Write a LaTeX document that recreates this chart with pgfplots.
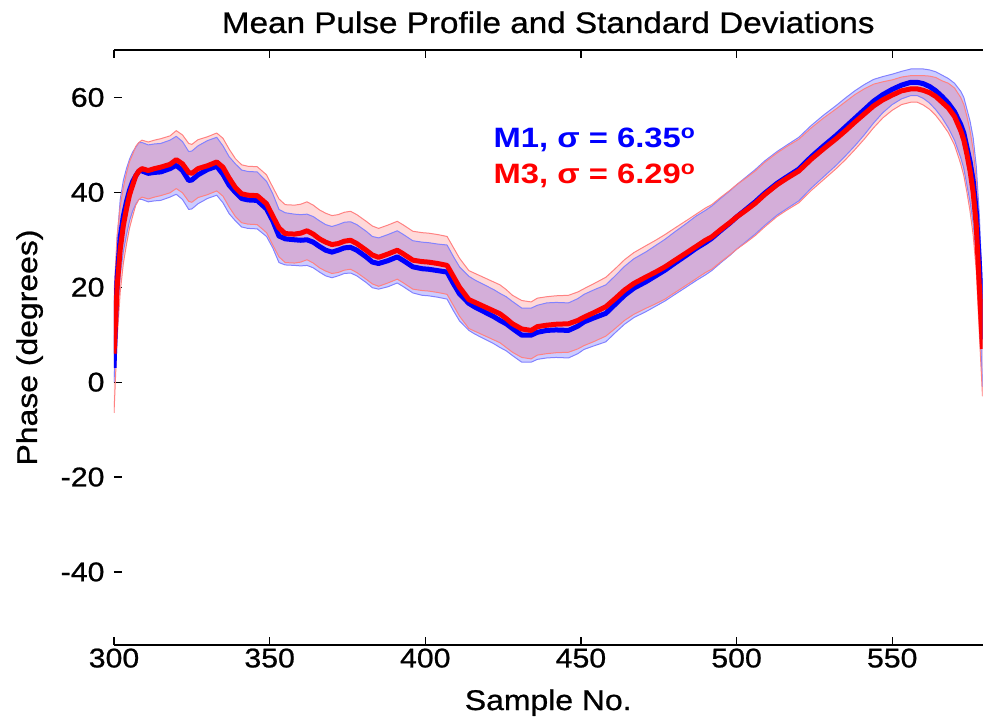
\documentclass[border=0pt]{standalone}
\usepackage{fontspec}
\setmainfont{Liberation Sans}[FakeStretch=1.12, FakeBold=0.8]
\newfontfamily\annfont{Liberation Sans}[FakeStretch=1.17]
\usepackage{pgfplots}
\pgfplotsset{compat=1.18}
\usepackage{pgfplotstable}
\usepgfplotslibrary{fillbetween}
\definecolor{mblue}{RGB}{0,0,255}
\definecolor{mred}{RGB}{255,0,0}
\definecolor{eblue}{RGB}{130,130,255}
\definecolor{ered}{RGB}{255,130,130}

\pgfplotstableread{
x m1 s1 m3 s3
300 3 3 6 12.5
301 22 8 20 11
302 30.5 8 28 9
303 35 7.5 33 8
304 38 7 36.5 7.5
305 40.5 6.5 39.5 7
306 42.3 6.2 41.5 6.5
307 43.5 6 43.5 6.2
308 44.5 6 44.5 6
309 44.5 6 45 6
311 44 6 44.6 6
313 44.2 6 45 6
315 44.3 6 45.3 6
318 45 6 45.9 6
320 45.7 6.1 46.9 6.1
322 44.6 6.1 46 6.1
324 42.5 6.1 44.2 6.1
325 42.6 6.1 44 6.1
327 43.7 6.1 45 6.1
330 44.8 6.1 45.6 6.1
333 45.5 6.1 46.4 6.1
335 43.8 6 45.3 6.1
337 41.5 6 43 6.1
339 40 6 41 6.1
341 38.7 6 39.7 6.1
343 38.4 6 39.4 6.1
346 38.3 6 39.3 6.1
349 36.5 5.8 37.6 6.1
351 34 5.7 35 6.1
353 30.8 5.6 32.5 6.1
355 30.2 5.5 31.3 6.1
358 30 5.4 31.2 6.1
360 29.9 5.4 31.4 6.1
362 30 5.4 31.9 6.1
364 29.5 5.4 31.2 6.1
366 28.6 5.4 30.2 6.1
368 27.8 5.4 29.5 6.1
370 27.4 5.4 29 6.1
372 27.8 5.4 29.2 6.1
374 28.3 5.4 29.7 6.1
376 28.4 5.4 29.9 6.1
378 27.8 5.4 29.2 6.1
381 26.4 5.4 27.8 6.1
383 25.3 5.4 26.8 6.1
385 25 5.4 26.3 6.1
388 25.6 5.5 27 6.1
391 26.4 5.5 27.8 6.1
393 25.6 5.5 27 6.1
396 24.3 5.5 25.7 6.1
399 23.9 5.6 25.4 6.1
401 23.8 5.6 25.3 6.1
404 23.5 5.6 25 6.1
407 23.2 5.7 24.6 6.1
409 20.8 5.7 22.3 6.1
411 18.6 5.7 20 6.1
414 16.6 5.7 17.4 6.1
416 15.8 5.7 16.8 6.1
419 14.8 5.7 15.9 6.1
422 13.8 5.7 15 6.1
424 13 5.7 14.4 6.1
426 12.3 5.7 13.4 6.1
428 11.3 5.7 12.3 6
431 9.9 5.7 11.2 6
434 9.9 5.7 10.9 6
436 10.5 5.7 11.7 6
439 10.9 5.8 12 6
442 11 5.8 12.2 6
446 10.9 5.8 12.3 6
449 11.8 5.8 13 6
451 12.7 5.8 13.7 6
454 13.5 5.9 14.6 6.1
458 14.5 6 15.9 6.2
461 16.4 6 17.6 6.3
464 18.3 6.1 19.4 6.4
467 19.8 6.2 20.8 6.5
471 21.2 6.3 22.2 6.6
474 22.4 6.4 23.2 6.7
477 23.6 6.5 24.3 6.8
480 25 6.6 25.6 6.8
484 26.8 6.7 27.3 6.8
487 28.2 6.8 28.6 6.8
490 29.4 6.8 29.9 6.8
492 30.3 6.8 30.6 6.8
495 32 6.8 32.2 6.8
498 33.6 6.8 33.7 6.8
500 34.8 6.8 34.8 6.8
503 36.4 6.8 36.2 6.8
506 38 6.8 37.7 6.8
509 39.8 6.8 39.5 6.8
513 41.9 6.7 41.6 6.7
516 43.2 6.7 42.9 6.7
520 44.9 6.7 44.5 6.7
524 47.5 6.6 47 6.6
528 49.8 6.5 49.2 6.5
532 52 6.3 51.3 6.3
535 53.8 6.1 53 6.1
538 55.6 5.8 54.8 5.8
541 57.4 5.3 56.5 5.3
544 59.2 4.6 58.2 4.6
547 60.6 3.8 59.5 3.8
550 61.7 3.2 60.5 3.2
553 62.6 2.9 61.4 2.9
556 63.2 2.8 61.8 2.8
558 63.2 2.8 61.8 2.8
560 62.9 3.1 61.5 3.1
562 62.3 3.5 61 3.5
564 61.4 4 60.2 4
566 60.2 4.5 59 4.5
568 58.8 5.2 57.8 5.2
570 57 6 56 6
572 54.3 7 53 7
573 52.5 7.5 51 7.5
574 49.5 8 48 8
575 46.5 8.5 44.5 8.5
576 42.5 9 40 9
577 36 9.5 33 9.5
578 25 10 20 10
579 9 10 7 10
}\data

\begin{document}
\begin{tikzpicture}
\begin{axis}[
  set layers,
  scale only axis,
  width=868.5pt, height=595pt,
  xmin=300, xmax=579, ymin=-55.4, ymax=70,
  xtick={300,350,400,450,500,550},
  ytick={-40,-20,0,20,40,60},
  tick align=inside,
  major tick length=8pt,
  xtick pos=both,
  ytick pos=left,
  separate axis lines,
  x axis line style={line width=1.2pt},
  y axis line style={draw=none},
  tick style={black, line width=1.2pt},
  /pgf/number format/assume math mode=true,
  ticklabel style={font=\fontsize{27}{29}\selectfont},
  yticklabel style={xshift=-6pt},
  title={Mean Pulse Profile and Standard Deviations},
  title style={font=\fontsize{29.7}{32}\selectfont, at={(axis description cs:0.5,1)}, anchor=base, yshift=11pt},
  xlabel={Sample No.},
  ylabel={Phase (degrees)},
  every axis x label/.style={at={(axis description cs:0.5,0)}, anchor=base, yshift=-65pt, font=\fontsize{28.5}{31}\selectfont},
  every axis y label/.style={at={(axis description cs:0,0.5)}, rotate=90, anchor=base, yshift=77pt, font=\fontsize{28.5}{31}\selectfont},
  line join=round,
]
\addplot[name path=bu, draw=eblue, line width=1pt] table[x=x, y expr=\thisrow{m1}+\thisrow{s1}] {\data};
\addplot[name path=bl, draw=eblue, line width=1pt] table[x=x, y expr=\thisrow{m1}-\thisrow{s1}] {\data};
\addplot[name path=ru, draw=ered, line width=1pt] table[x=x, y expr=\thisrow{m3}+\thisrow{s3}] {\data};
\addplot[name path=rl, draw=ered, line width=1pt] table[x=x, y expr=\thisrow{m3}-\thisrow{s3}] {\data};
\addplot[fill=mblue, fill opacity=0.2, draw=none] fill between[of=bu and bl];
\addplot[fill=mred, fill opacity=0.15, draw=none] fill between[of=ru and rl];
\addplot[draw=mblue, line width=5pt] table[x=x, y=m1] {\data};
\addplot[draw=mred, line width=5pt] table[x=x, y=m3] {\data};
\node[anchor=base west, text=mblue, font=\annfont\bfseries\fontsize{28}{30}\selectfont, inner sep=0pt] at (axis cs:421.9,49.5) {M1, σ = 6.35\textsuperscript{o}};
\node[anchor=base west, text=mred, font=\annfont\bfseries\fontsize{28}{30}\selectfont, inner sep=0pt] at (axis cs:421.9,41.8) {M3, σ = 6.29\textsuperscript{o}};
\coordinate (SW) at (rel axis cs:0,0);
\coordinate (NE) at (rel axis cs:1,1);
\end{axis}
\pgfresetboundingbox
\path[use as bounding box] (SW) ++(-114pt,-75pt) rectangle ([shift={(0.5pt,50pt)}]NE);
\end{tikzpicture}
\end{document}
